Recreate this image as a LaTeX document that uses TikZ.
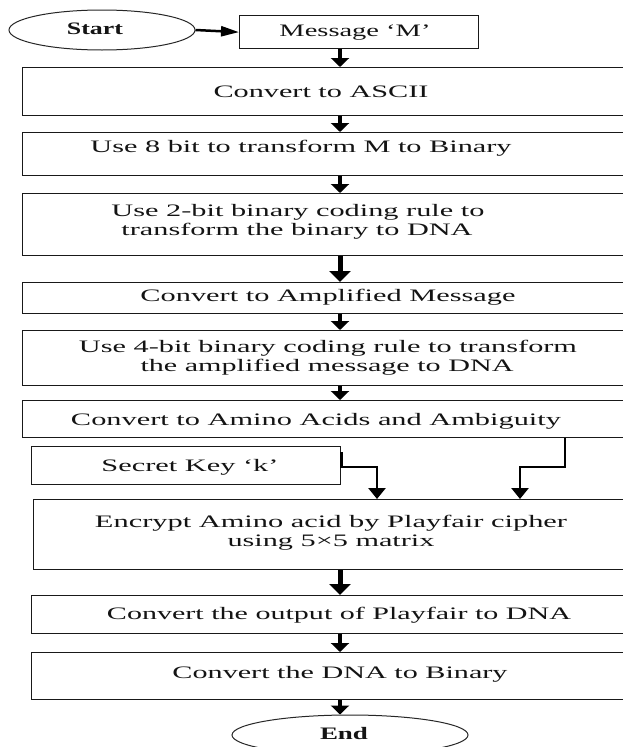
\documentclass[tikz,border=0pt]{standalone}
\usepackage{fontspec}
\setmainfont{Liberation Serif}
\usetikzlibrary{arrows.meta,shapes.geometric,calc}
% set a line of text at a given width, keeping its height
\newcommand\wtext[2]{\resizebox{#1pt}{\height}{#2}}

\tikzset{
  box/.style={draw=black!90, line width=1.3pt, rectangle, inner sep=0pt, anchor=north west},
  term/.style={draw=black!85, line width=1pt, ellipse, inner sep=0pt},
  label/.style={inner sep=0pt, anchor=base, text=black!92},
  flow/.style={line width=3.5pt, -{Triangle[width=18pt,length=9pt]}},
  flowthick/.style={line width=5pt, -{Triangle[width=21pt,length=11pt]}},
  joint/.style={line width=2.8pt, -{Triangle[width=17pt,length=11pt]}},
  side/.style={line width=2.5pt, -{Triangle[width=10pt,length=18pt]}},
}

\begin{document}
\begin{tikzpicture}[x=1pt,y=-1pt,font=\fontsize{17.5}{21}\selectfont]
\useasboundingbox (0,0) rectangle (623,747);
\clip (0,0) rectangle (623,747);
\fill[white] (0,0) rectangle (623,747);

% vertical spine of the main flow and the jog points of the key branches
\coordinate (spine) at (340,0);
\coordinate (kx) at (377,0);
\coordinate (ax) at (565,0);
\coordinate (bx) at (520,0);
\coordinate (jy) at (0,467);

% terminals
\node[term, minimum width=186pt, minimum height=40pt] (start) at (102,30) {};
\node[term, minimum width=236pt, minimum height=40pt] (end) at (350,735) {};

% process boxes (the wide ones run on past the right edge)
\node[box, minimum width=239pt, minimum height=33pt] (msg) at (239,15) {};
\node[box, minimum width=620pt, minimum height=48pt] (ascii) at (22,67) {};
\node[box, minimum width=620pt, minimum height=43pt] (bin) at (22,132) {};
\node[box, minimum width=620pt, minimum height=62pt] (dna2) at (22,193) {};
\node[box, minimum width=620pt, minimum height=31pt] (ampl) at (22,282) {};
\node[box, minimum width=620pt, minimum height=55pt] (dna4) at (22,330) {};
\node[box, minimum width=620pt, minimum height=37pt] (amino) at (22,400) {};
\node[box, minimum width=309pt, minimum height=38pt] (key) at (31,446) {};
\node[box, minimum width=610pt, minimum height=70pt] (enc) at (33,499) {};
\node[box, minimum width=612pt, minimum height=38pt] (out) at (31,595) {};
\node[box, minimum width=612pt, minimum height=47pt] (back) at (31,652) {};

% texts
\node[label] (t-start) at (95,34) {\wtext{56}{\bfseries Start}};
\node[label] (t-end) at (344,739) {\wtext{48}{\bfseries End}};
\node[label] (t-msg) at (355,36) {\wtext{151}{Message ‘M’}};
\node[label] (t-ascii) at (321,97) {\wtext{215}{Convert to ASCII}};
\node[label] (t-bin) at (301,152) {\wtext{421}{Use 8 bit to transform M to Binary}};
\node[label] (t-dna2a) at (298,216) {\wtext{373}{Use 2-bit binary coding rule to}};
\node[label] (t-dna2b) at (297,235) {\wtext{351}{transform the binary to DNA}};
\node[label] (t-ampl) at (328,301) {\wtext{375}{Convert to Amplified Message}};
\node[label] (t-dna4a) at (328,352) {\wtext{498}{Use 4-bit binary coding rule to transform}};
\node[label] (t-dna4b) at (327,371) {\wtext{373}{the amplified message to DNA}};
\node[label] (t-amino) at (316,425) {\wtext{490}{Convert to Amino Acids and Ambiguity}};
\node[label] (t-key) at (190,471) {\wtext{177}{Secret Key ‘k’}};
\node[label] (t-enca) at (331,527) {\wtext{472}{Encrypt Amino acid by Playfair cipher}};
\node[label] (t-encb) at (331,546) {\wtext{207}{using 5×5 matrix}};
\node[label] (t-out) at (339,619) {\wtext{464}{Convert the output of Playfair to DNA}};
\node[label] (t-back) at (340,678) {\wtext{335}{Convert the DNA to Binary}};

% connectors
\draw[side] (start.east) -- (msg.west);
\draw[flow] (msg.south -| spine) -- (ascii.north -| spine);
\draw[flow] (ascii.south -| spine) -- (bin.north -| spine);
\draw[flow] (bin.south -| spine) -- (dna2.north -| spine);
\draw[flowthick] (dna2.south -| spine) -- (ampl.north -| spine);
\draw[flow] (ampl.south -| spine) -- (dna4.north -| spine);
\draw[flow] (dna4.south -| spine) -- (amino.north -| spine);
\draw[joint] ([yshift=-6pt]key.north east) -- (key.east |- jy) -| (enc.north -| kx);
\draw[joint] (amino.south -| ax) -- (ax |- jy) -| (enc.north -| bx);
\draw[flowthick] (enc.south -| spine) -- (out.north -| spine);
\draw[flow] (out.south -| spine) -- (back.north -| spine);
\draw[flow] (back.south -| spine) -- (end.north -| spine);
\end{tikzpicture}
\end{document}
